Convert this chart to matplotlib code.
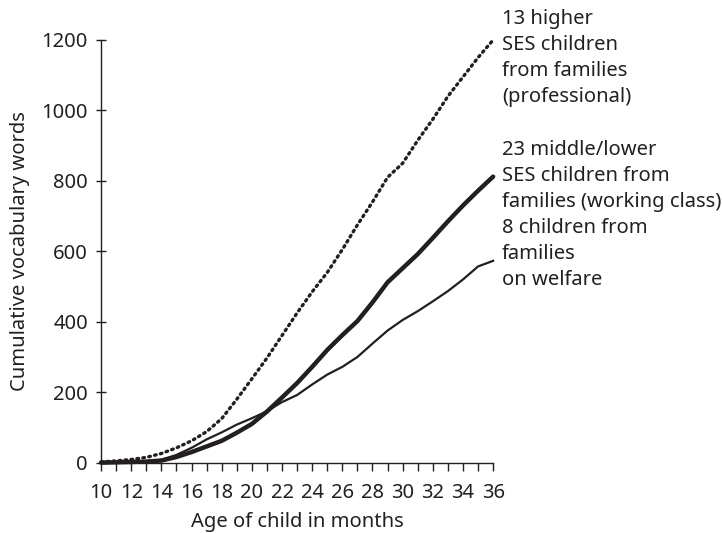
import matplotlib.pyplot as plt
import numpy as np

months = list(range(10, 37))

# 13 higher SES children (professional)
professional = [2, 5, 9, 15, 26, 42, 62, 88, 125, 180, 238, 297, 361, 425, 485,
                540, 605, 675, 740, 810, 850, 915, 975, 1040, 1095, 1150, 1200]
# 23 middle/lower SES children (working class)
working_class = [0, 1, 2, 3, 6, 16, 30, 46, 62, 85, 110, 145, 185, 226, 272,
                 320, 362, 402, 455, 512, 552, 592, 638, 685, 730, 772, 812]
# 8 children from families on welfare
welfare = [0, 1, 2, 4, 8, 22, 42, 66, 86, 108, 126, 146, 172, 192, 222,
           250, 272, 300, 338, 375, 405, 430, 458, 487, 520, 557, 573]

labels = ["13 higher\nSES children\nfrom families\n(professional)",
          "23 middle/lower\nSES children from\nfamilies (working class)",
          "8 children from\nfamilies\non welfare"]

plt.rcParams['font.family'] = ['Noto Sans', 'DejaVu Sans']
ink = '#231f20'
fs = 14.5

fig = plt.figure(figsize=(7.22, 5.33), dpi=100)
ax = fig.add_axes([0.14, 0.132, 0.543, 0.793])

ax.plot(months, professional, color=ink, lw=2.4, linestyle=(0, (0.5, 1.3)),
        dash_capstyle='round', clip_on=False)
ax.plot(months, working_class, color=ink, lw=3.2, clip_on=False, solid_capstyle='round')
ax.plot(months, welfare, color=ink, lw=1.6, clip_on=False)

ax.set_xlim(10, 36)
ax.set_ylim(0, 1200)
ax.set_xticks(range(10, 37, 2))
ax.set_xticks(range(11, 37, 2), minor=True)
ax.set_yticks(range(0, 1201, 200))

for s in ['top', 'right']:
    ax.spines[s].set_visible(False)
for s in ['left', 'bottom']:
    ax.spines[s].set_color(ink)
    ax.spines[s].set_linewidth(1.0)

ax.tick_params(axis='x', which='both', direction='out', length=6, width=1.0,
               colors=ink, labelsize=fs, pad=9)
ax.tick_params(axis='y', direction='inout', length=7, width=1.0,
               colors=ink, labelsize=fs, pad=6)

ax.set_xlabel('Age of child in months', fontsize=fs, color=ink, labelpad=6)
ax.set_ylabel('Cumulative vocabulary words', fontsize=fs, color=ink, labelpad=8)

centers = [58, 176, 254]
for txt, c in zip(labels, centers):
    fig.text(502 / 722, 1 - c / 533, txt, ha='left', va='center',
             fontsize=fs, color=ink, linespacing=1.38)

fig.savefig('out.png', dpi=100)
